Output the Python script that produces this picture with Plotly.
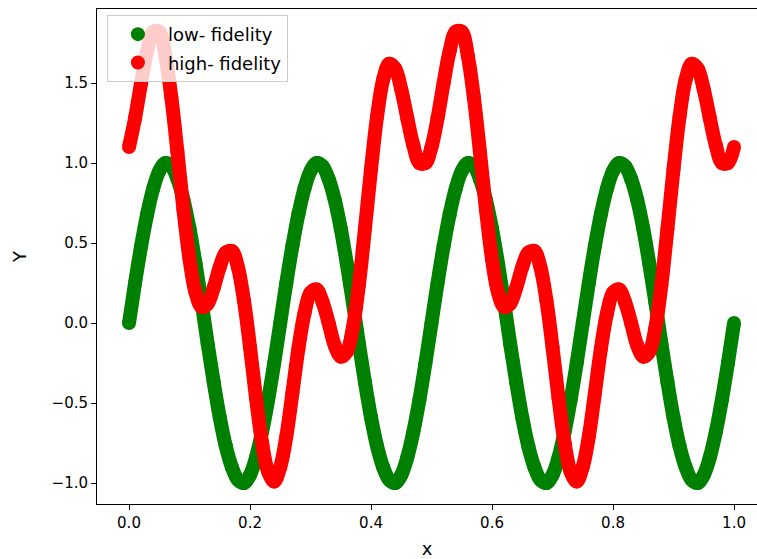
import plotly.graph_objects as go

# Sample positions along x
x = [round(i / 100, 2) for i in range(101)]

# Low-fidelity response
low_fidelity = [
    0.00, 0.25, 0.48, 0.68, 0.84, 0.95, 1.00, 0.98, 0.90, 0.77, 0.59, 0.37, 0.13,
    -0.13, -0.37, -0.59, -0.77, -0.90, -0.98, -1.00, -0.95, -0.84, -0.68, -0.48, -0.25,
    0.00, 0.25, 0.48, 0.68, 0.84, 0.95, 1.00, 0.98, 0.90, 0.77, 0.59, 0.37, 0.13,
    -0.13, -0.37, -0.59, -0.77, -0.90, -0.98, -1.00, -0.95, -0.84, -0.68, -0.48, -0.25,
    0.00, 0.25, 0.48, 0.68, 0.84, 0.95, 1.00, 0.98, 0.90, 0.77, 0.59, 0.37, 0.13,
    -0.13, -0.37, -0.59, -0.77, -0.90, -0.98, -1.00, -0.95, -0.84, -0.68, -0.48, -0.25,
    0.00, 0.25, 0.48, 0.68, 0.84, 0.95, 1.00, 0.98, 0.90, 0.77, 0.59, 0.37, 0.13,
    -0.13, -0.37, -0.59, -0.77, -0.90, -0.98, -1.00, -0.95, -0.84, -0.68, -0.48, -0.25,
    0.00,
]

# High-fidelity response
high_fidelity = [
    1.10, 1.28, 1.50, 1.70, 1.82, 1.82, 1.67, 1.41, 1.07, 0.71,
    0.40, 0.19, 0.10, 0.12, 0.22, 0.35, 0.44, 0.45, 0.35, 0.14,
    -0.15, -0.47, -0.75, -0.93, -0.99, -0.90, -0.71, -0.44, -0.16, 0.06,
    0.19, 0.21, 0.13, 0.00, -0.14, -0.21, -0.18, -0.03, 0.24, 0.59,
    0.96, 1.29, 1.52, 1.62, 1.59, 1.46, 1.28, 1.11, 1.00, 1.00,
    1.10, 1.28, 1.50, 1.70, 1.82, 1.82, 1.67, 1.41, 1.07, 0.71,
    0.40, 0.19, 0.10, 0.12, 0.22, 0.35, 0.44, 0.45, 0.35, 0.14,
    -0.15, -0.47, -0.75, -0.93, -0.99, -0.90, -0.71, -0.44, -0.16, 0.06,
    0.19, 0.21, 0.13, 0.00, -0.14, -0.21, -0.18, -0.03, 0.24, 0.59,
    0.96, 1.29, 1.52, 1.62, 1.59, 1.46, 1.28, 1.11, 1.00, 1.00,
    1.10,
]

series = [
    ("low- fidelity", low_fidelity, "green"),
    ("high- fidelity", high_fidelity, "red"),
]

DOT = 14

fig = go.Figure()
for name, values, color in series:
    # thick smooth band through the samples
    fig.add_trace(go.Scatter(
        x=x, y=values, mode="lines", legendgroup=name, showlegend=False,
        line=dict(color=color, width=DOT, shape="spline"), hoverinfo="skip",
    ))
    # round dots at every sample (also used for the legend)
    fig.add_trace(go.Scatter(
        x=x, y=values, mode="markers", name=name, legendgroup=name,
        marker=dict(color=color, size=DOT, line=dict(width=0)),
    ))

axis_common = dict(
    showgrid=False, zeroline=False, showline=True, linecolor="black", linewidth=1,
    ticks="outside", ticklen=5, tickwidth=1, tickcolor="black", tickformat=".1f",
    tickfont=dict(family="DejaVu Sans", size=15, color="black"),
    automargin=False,
)

fig.update_layout(
    width=757, height=559,
    margin=dict(l=97, r=0, t=9, b=55),
    plot_bgcolor="white", paper_bgcolor="white",
    font=dict(family="DejaVu Sans", size=15, color="black"),
    xaxis=dict(range=[-0.0529, 1.038], tickvals=[0, 0.2, 0.4, 0.6, 0.8, 1.0],
               mirror=True, title=dict(text="x", standoff=19), **axis_common),
    yaxis=dict(range=[-1.131, 1.9625], tickvals=[-1.0, -0.5, 0.0, 0.5, 1.0, 1.5],
               mirror=False, title=dict(text="Y", standoff=20), **axis_common),
    legend=dict(
        x=0.015, y=0.988, xanchor="left", yanchor="top",
        bgcolor="rgba(255,255,255,0.8)", bordercolor="#cccccc", borderwidth=1,
        font=dict(family="DejaVu Sans", size=18, color="black"),
        itemwidth=50, tracegroupgap=2,
    ),
)

fig.write_html("out.html")
